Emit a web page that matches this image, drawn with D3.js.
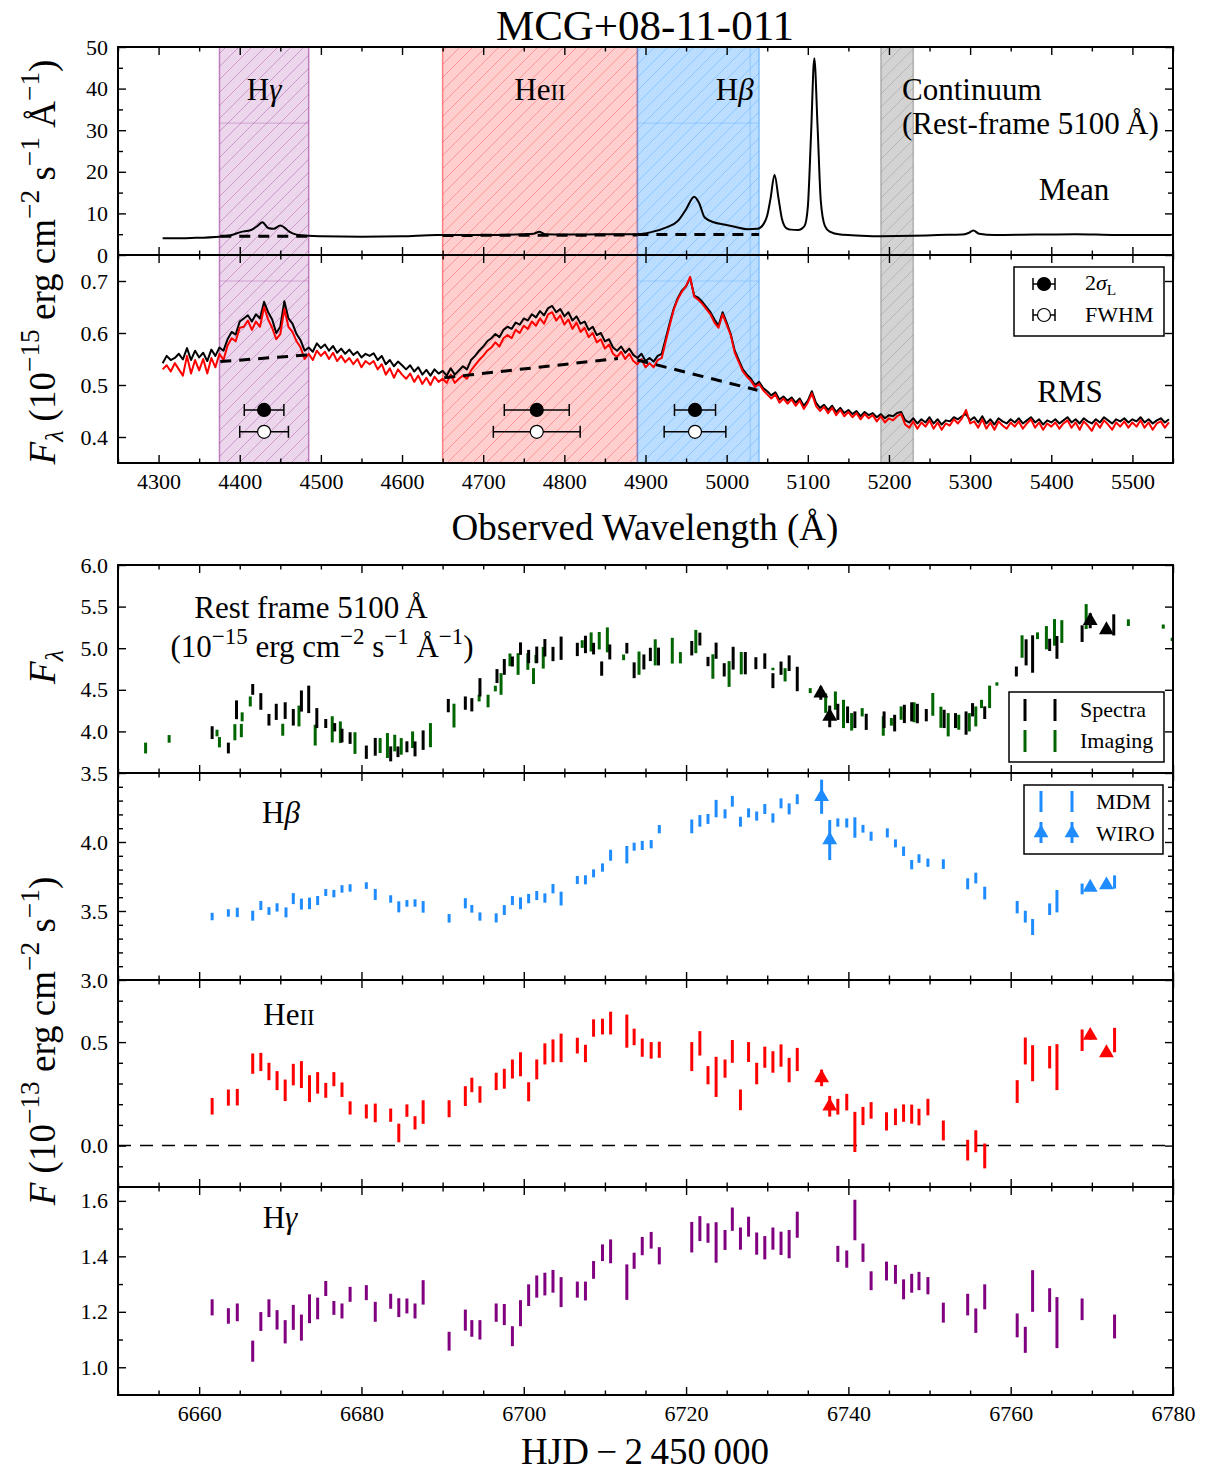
<!DOCTYPE html>
<html>
<head>
<meta charset="utf-8">
<script src="https://cdn.jsdelivr.net/npm/d3@7"></script>
<style>
    body { margin: 0; background: #fff; }
    svg text { font-family: "Liberation Serif", "Times New Roman", serif; fill: #000; }
</style>
</head>
<body>
<svg id="chart" width="1209" height="1471"></svg>
<script>
// ---- spectra ----
const meanWave = [4305, 4340, 4375, 4390, 4401, 4414, 4422, 4428, 4435, 4442, 4450, 4455, 4461, 4470, 4485,
    4500, 4550, 4600, 4643, 4700, 4750, 4762, 4769, 4776, 4800, 4850, 4889, 4907, 4925, 4940, 4950,
    4960, 4966, 4973, 4985, 4995, 5010, 5026, 5038, 5046, 5050, 5054, 5059, 5064, 5068, 5074, 5079,
    5088, 5096, 5100, 5104, 5108, 5112, 5116, 5121, 5127, 5140, 5160, 5190, 5230, 5260, 5290, 5298,
    5304, 5311, 5330, 5380, 5430, 5480, 5520, 5548];
const meanFlux = [4.0, 4.1, 4.4, 4.8, 5.5, 6.0, 7.0, 7.9, 6.5, 6.3, 7.1, 6.6, 5.6, 4.9, 4.6,
    4.5, 4.4, 4.5, 4.8, 4.8, 5.0, 5.1, 5.6, 5.0, 4.9, 5.0, 5.0, 5.5, 6.6, 8.2, 11.0,
    14.0, 12.5, 9.0, 7.8, 7.4, 6.8, 6.2, 6.3, 7.6, 9.5, 13.5, 19.3, 13.5, 8.8, 6.4, 6.1,
    6.0, 7.0, 11.5, 29.0, 47.3, 31.0, 13.0, 7.0, 5.6, 4.9, 4.7, 4.5, 4.6, 4.8, 4.9, 5.3,
    5.9, 5.1, 4.8, 4.9, 5.0, 4.8, 4.8, 4.8];

// rms spectra, 5 A sampling from 4305 A (one row = 100 A)
const rmsStart = 4305, rmsStep = 5;
const rmsBlack = [
    0.542, 0.556, 0.548, 0.552, 0.560, 0.549, 0.571, 0.548, 0.566, 0.553, 0.562, 0.546, 0.568, 0.556, 0.572, 0.566, 0.588, 0.602, 0.597, 0.622,
    0.628, 0.634, 0.622, 0.636, 0.628, 0.660, 0.640, 0.626, 0.600, 0.612, 0.661, 0.628, 0.618, 0.598, 0.586, 0.566, 0.572, 0.564, 0.580, 0.571,
    0.578, 0.566, 0.575, 0.562, 0.570, 0.560, 0.568, 0.558, 0.564, 0.553, 0.560, 0.556, 0.561, 0.548, 0.556, 0.540, 0.548, 0.536, 0.545, 0.538,
    0.530, 0.538, 0.526, 0.534, 0.520, 0.529, 0.518, 0.530, 0.522, 0.527, 0.518, 0.532, 0.520, 0.528, 0.536, 0.530, 0.548, 0.556, 0.566, 0.574,
    0.584, 0.590, 0.598, 0.592, 0.606, 0.612, 0.608, 0.620, 0.616, 0.628, 0.624, 0.636, 0.630, 0.642, 0.634, 0.648, 0.652, 0.640, 0.646, 0.632,
    0.640, 0.624, 0.632, 0.618, 0.622, 0.606, 0.612, 0.596, 0.600, 0.584, 0.588, 0.572, 0.566, 0.574, 0.562, 0.570, 0.558, 0.552, 0.560, 0.546,
    0.552, 0.545, 0.556, 0.560, 0.590, 0.620, 0.648, 0.668, 0.682, 0.690, 0.706, 0.672, 0.668, 0.660, 0.650, 0.640, 0.626, 0.614, 0.640, 0.620,
    0.598, 0.566, 0.548, 0.530, 0.520, 0.512, 0.500, 0.506, 0.494, 0.488, 0.480, 0.486, 0.472, 0.478, 0.470, 0.476, 0.466, 0.474, 0.460, 0.470,
    0.488, 0.466, 0.456, 0.462, 0.452, 0.460, 0.448, 0.456, 0.446, 0.452, 0.444, 0.450, 0.440, 0.448, 0.442, 0.446, 0.438, 0.444, 0.436, 0.442,
    0.440, 0.446, 0.448, 0.432, 0.428, 0.436, 0.426, 0.434, 0.428, 0.438, 0.426, 0.434, 0.424, 0.432, 0.430, 0.438, 0.434, 0.440, 0.444, 0.432,
    0.438, 0.428, 0.440, 0.426, 0.434, 0.424, 0.436, 0.430, 0.426, 0.434, 0.428, 0.436, 0.426, 0.432, 0.438, 0.428, 0.434, 0.424, 0.432, 0.428,
    0.434, 0.426, 0.432, 0.438, 0.428, 0.434, 0.426, 0.436, 0.430, 0.426, 0.434, 0.428, 0.438, 0.432, 0.426, 0.434, 0.430, 0.436, 0.428, 0.434,
    0.430, 0.438, 0.428, 0.434, 0.426, 0.432, 0.436, 0.428, 0.434];
const rmsRed = [
    0.530, 0.538, 0.526, 0.542, 0.530, 0.518, 0.556, 0.522, 0.548, 0.528, 0.550, 0.522, 0.552, 0.534, 0.560, 0.548, 0.576, 0.590, 0.584, 0.610,
    0.612, 0.624, 0.606, 0.622, 0.612, 0.650, 0.626, 0.610, 0.588, 0.598, 0.646, 0.612, 0.602, 0.584, 0.572, 0.550, 0.560, 0.548, 0.566, 0.556,
    0.564, 0.550, 0.562, 0.546, 0.556, 0.544, 0.552, 0.540, 0.550, 0.534, 0.546, 0.540, 0.546, 0.530, 0.540, 0.520, 0.532, 0.514, 0.530, 0.520,
    0.512, 0.522, 0.506, 0.518, 0.502, 0.514, 0.500, 0.516, 0.506, 0.512, 0.504, 0.520, 0.504, 0.512, 0.518, 0.512, 0.528, 0.538, 0.548, 0.556,
    0.566, 0.572, 0.582, 0.574, 0.590, 0.596, 0.590, 0.606, 0.600, 0.614, 0.608, 0.622, 0.614, 0.628, 0.618, 0.636, 0.640, 0.624, 0.634, 0.616,
    0.626, 0.608, 0.620, 0.602, 0.610, 0.592, 0.600, 0.582, 0.588, 0.570, 0.578, 0.560, 0.554, 0.564, 0.550, 0.560, 0.546, 0.540, 0.550, 0.534,
    0.542, 0.534, 0.548, 0.552, 0.584, 0.616, 0.646, 0.666, 0.680, 0.690, 0.708, 0.670, 0.664, 0.656, 0.646, 0.636, 0.620, 0.610, 0.636, 0.616,
    0.596, 0.562, 0.544, 0.526, 0.516, 0.508, 0.496, 0.502, 0.490, 0.482, 0.474, 0.482, 0.466, 0.474, 0.464, 0.472, 0.460, 0.470, 0.454, 0.466,
    0.484, 0.460, 0.450, 0.458, 0.446, 0.456, 0.442, 0.452, 0.440, 0.448, 0.438, 0.446, 0.434, 0.444, 0.436, 0.442, 0.430, 0.440, 0.428, 0.436,
    0.432, 0.440, 0.444, 0.424, 0.418, 0.430, 0.416, 0.428, 0.420, 0.432, 0.416, 0.428, 0.414, 0.426, 0.422, 0.434, 0.426, 0.436, 0.452, 0.426,
    0.430, 0.418, 0.434, 0.416, 0.428, 0.414, 0.430, 0.422, 0.416, 0.428, 0.420, 0.430, 0.416, 0.426, 0.434, 0.418, 0.428, 0.414, 0.426, 0.420,
    0.428, 0.416, 0.426, 0.432, 0.418, 0.428, 0.414, 0.430, 0.422, 0.412, 0.428, 0.418, 0.432, 0.424, 0.414, 0.428, 0.420, 0.430, 0.418, 0.428,
    0.420, 0.432, 0.418, 0.428, 0.414, 0.426, 0.430, 0.418, 0.428];

// integration windows (observed wavelength)
const windowLo = [4375, 4650, 4890, 5190];
const windowHi = [4485, 4890, 5040, 5230];

// local continuum under each line: [x0, y0, x1, y1]
const meanCont = [[4376, 4.5, 4485, 4.5], [4650, 4.7, 4890, 4.8], [4890, 4.9, 5040, 4.9]];
const rmsCont = [[4376, 0.545, 4485, 0.558], [4652, 0.514, 4866, 0.551], [4890, 0.548, 5038, 0.490]];

// line widths from rms spectrum
const lineCenter = [4430, 4766, 4961];
const sigmaHalf = [24.4, 40, 25.3];
const fwhmHalf = [30, 53.5, 38];
const sigmaLevel = 0.452, fwhmLevel = 0.410;

// ---- light curves: [HJD-2450000, value, error] ----
const contSpec = [
    [6661.6, 3.985, 0.077], [6663.6, 3.80, 0.065], [6664.6, 4.26, 0.113], [6666.6, 4.505, 0.065],
    [6667.6, 4.36, 0.10], [6668.6, 4.14, 0.07], [6669.5, 4.235, 0.097], [6670.6, 4.25, 0.10],
    [6671.6, 4.17, 0.10], [6672.6, 4.365, 0.127], [6673.5, 4.385, 0.165], [6674.5, 4.16, 0.12],
    [6675.6, 4.095, 0.054], [6676.7, 4.05, 0.05], [6677.6, 3.95, 0.082], [6678.6, 3.92, 0.07],
    [6680.6, 3.75, 0.08], [6681.7, 3.815, 0.107], [6683.6, 3.73, 0.09], [6684.5, 3.755, 0.064],
    [6685.6, 3.815, 0.066], [6686.6, 3.79, 0.09], [6687.6, 3.895, 0.117], [6690.7, 4.31, 0.08],
    [6692.8, 4.34, 0.08], [6693.6, 4.32, 0.08], [6694.6, 4.53, 0.11], [6696.7, 4.665, 0.084],
    [6697.6, 4.775, 0.095], [6698.6, 4.84, 0.06], [6699.6, 4.995, 0.075], [6700.6, 4.90, 0.08],
    [6701.6, 4.92, 0.10], [6702.6, 5.005, 0.105], [6703.6, 4.93, 0.086], [6704.6, 5.0, 0.14],
    [6706.6, 4.985, 0.08], [6707.6, 5.045, 0.105], [6708.6, 4.995, 0.07], [6709.6, 4.755, 0.086],
    [6710.6, 4.955, 0.09], [6712.7, 5.0, 0.064], [6713.6, 4.735, 0.095], [6714.8, 4.835, 0.09],
    [6715.6, 4.925, 0.08], [6716.6, 4.90, 0.107], [6720.7, 5.0, 0.087], [6721.7, 5.11, 0.077],
    [6722.7, 4.84, 0.056], [6723.7, 4.97, 0.097], [6724.7, 4.74, 0.08], [6725.8, 4.88, 0.137],
    [6727.3, 4.82, 0.134], [6728.6, 4.82, 0.072], [6729.7, 4.845, 0.093], [6730.7, 4.61, 0.09],
    [6731.7, 4.76, 0.08], [6732.7, 4.82, 0.094], [6733.7, 4.63, 0.147], [6738.7, 4.235, 0.097],
    [6739.9, 4.20, 0.10], [6740.8, 4.14, 0.10], [6742.2, 4.115, 0.097], [6744.4, 4.14, 0.10],
    [6745.7, 4.10, 0.10], [6746.9, 4.21, 0.11], [6747.8, 4.235, 0.115], [6748.5, 4.215, 0.117],
    [6749.6, 4.195, 0.074], [6751.8, 4.15, 0.11], [6753.2, 4.13, 0.09], [6754.5, 4.10, 0.14],
    [6755.3, 4.26, 0.08], [6756.8, 4.225, 0.076], [6760.7, 4.72, 0.06], [6761.9, 4.95, 0.157],
    [6762.7, 4.93, 0.225], [6764.8, 5.04, 0.074], [6765.7, 5.01, 0.137], [6768.8, 5.175, 0.10],
    [6772.7, 5.28, 0.127]];
const contWiro = [[6736.6, 4.46, 0.08], [6737.7, 4.18, 0.13], [6769.8, 5.33, 0.09], [6771.8, 5.22, 0.05]];
const contImg = [
    [6653.4, 3.80, 0.065], [6656.3, 3.91, 0.046], [6662.2, 3.98, 0.04], [6662.5, 3.87, 0.062],
    [6664.4, 3.99, 0.097], [6665.2, 4.01, 0.08], [6665.3, 4.175, 0.054], [6666.3, 4.36, 0.06],
    [6670.3, 4.02, 0.072], [6672.3, 4.185, 0.125], [6674.3, 3.955, 0.125], [6676.4, 4.025, 0.157],
    [6677.4, 3.99, 0.13], [6679.2, 3.86, 0.13], [6682.3, 3.83, 0.09], [6683.2, 3.83, 0.15],
    [6684.1, 3.86, 0.10], [6684.9, 3.82, 0.10], [6686.3, 3.90, 0.10], [6688.5, 3.955, 0.145],
    [6691.4, 4.19, 0.143], [6694.5, 4.40, 0.04], [6695.6, 4.365, 0.076], [6696.5, 4.515, 0.034],
    [6697.2, 4.57, 0.13], [6698.3, 4.86, 0.076], [6699.3, 4.81, 0.13], [6700.5, 4.84, 0.10],
    [6701.2, 4.665, 0.095], [6701.5, 4.87, 0.05], [6702.4, 4.885, 0.13], [6707.2, 5.05, 0.046],
    [6708.3, 5.075, 0.115], [6709.3, 5.09, 0.105], [6710.3, 5.10, 0.15], [6712.3, 4.89, 0.034],
    [6714.2, 4.82, 0.14], [6716.2, 4.95, 0.157], [6718.3, 4.97, 0.155], [6719.3, 4.885, 0.068],
    [6721.2, 5.08, 0.14], [6723.3, 4.78, 0.147], [6725.3, 4.69, 0.155], [6726.8, 4.82, 0.134],
    [6730.7, 4.75, 0.015], [6732.2, 4.68, 0.08], [6735.3, 4.49, 0.03], [6737.2, 4.34, 0.117],
    [6738.4, 4.37, 0.11], [6739.4, 4.21, 0.17], [6740.4, 4.115, 0.105], [6741.7, 4.23, 0.05],
    [6744.3, 4.065, 0.117], [6745.3, 4.115, 0.046], [6746.5, 4.22, 0.08], [6748.1, 4.23, 0.12],
    [6750.4, 4.325, 0.137], [6751.4, 4.17, 0.127], [6752.3, 4.08, 0.14], [6753.6, 4.11, 0.09],
    [6754.9, 4.11, 0.11], [6755.7, 4.18, 0.12], [6756.4, 4.33, 0.05], [6757.4, 4.415, 0.135],
    [6758.3, 4.57, 0.02], [6761.4, 5.02, 0.135], [6763.3, 5.15, 0.04], [6764.4, 5.126, 0.14],
    [6765.4, 5.19, 0.16], [6766.3, 5.20, 0.137], [6769.3, 5.38, 0.15], [6774.5, 5.307, 0.04],
    [6778.8, 5.26, 0.025], [6779.9, 5.106, 0.02]];

const hbMdm = [
    [6661.6, 3.46, 0.027], [6663.6, 3.486, 0.027], [6664.7, 3.49, 0.034], [6666.6, 3.466, 0.036],
    [6667.6, 3.54, 0.033], [6668.6, 3.50, 0.028], [6669.6, 3.526, 0.03], [6670.7, 3.49, 0.036],
    [6671.6, 3.59, 0.04], [6672.6, 3.55, 0.04], [6673.6, 3.555, 0.042], [6674.6, 3.576, 0.033],
    [6675.6, 3.634, 0.025], [6676.6, 3.626, 0.027], [6677.6, 3.66, 0.027], [6678.6, 3.667, 0.027],
    [6680.6, 3.684, 0.024], [6681.7, 3.62, 0.04], [6683.6, 3.587, 0.027], [6684.6, 3.53, 0.04],
    [6685.6, 3.555, 0.024], [6686.6, 3.558, 0.027], [6687.6, 3.53, 0.042], [6690.8, 3.447, 0.031],
    [6692.8, 3.556, 0.037], [6693.6, 3.516, 0.028], [6694.6, 3.46, 0.03], [6696.6, 3.45, 0.033],
    [6697.6, 3.507, 0.036], [6698.6, 3.576, 0.033], [6699.6, 3.556, 0.043], [6700.6, 3.59, 0.034],
    [6701.6, 3.612, 0.033], [6702.6, 3.594, 0.034], [6703.6, 3.662, 0.034], [6704.6, 3.59, 0.05],
    [6706.6, 3.725, 0.029], [6707.6, 3.726, 0.033], [6708.6, 3.773, 0.029], [6709.7, 3.815, 0.03],
    [6710.7, 3.904, 0.04], [6712.7, 3.908, 0.063], [6713.6, 3.966, 0.029], [6714.6, 3.975, 0.033],
    [6715.7, 3.984, 0.03], [6716.7, 4.093, 0.03], [6720.7, 4.113, 0.05], [6721.7, 4.153, 0.042],
    [6722.7, 4.167, 0.036], [6723.7, 4.242, 0.063], [6724.8, 4.204, 0.033], [6725.7, 4.295, 0.039],
    [6726.7, 4.147, 0.036], [6727.7, 4.211, 0.033], [6728.7, 4.188, 0.033], [6729.7, 4.239, 0.036],
    [6730.7, 4.174, 0.034], [6731.7, 4.28, 0.036], [6732.7, 4.24, 0.04], [6733.7, 4.31, 0.036],
    [6738.7, 4.141, 0.03], [6739.8, 4.138, 0.033], [6740.8, 4.105, 0.074], [6741.8, 4.096, 0.028],
    [6742.8, 4.042, 0.033], [6744.8, 4.066, 0.033], [6745.8, 3.99, 0.029], [6746.8, 3.933, 0.034],
    [6747.8, 3.836, 0.034], [6748.7, 3.88, 0.031], [6749.8, 3.85, 0.03], [6751.7, 3.84, 0.035],
    [6754.7, 3.697, 0.04], [6755.7, 3.739, 0.039], [6756.8, 3.63, 0.046], [6760.8, 3.528, 0.045],
    [6761.8, 3.459, 0.043], [6762.7, 3.384, 0.058], [6764.8, 3.513, 0.042], [6765.7, 3.571, 0.081],
    [6768.8, 3.66, 0.039], [6772.8, 3.71, 0.048]];
const hbWiro = [[6736.7, 4.328, 0.124], [6737.7, 4.014, 0.145], [6769.8, 3.671, 0.015], [6771.8, 3.688, 0.015]];

const heMdm = [
    [6661.6, 0.19, 0.04], [6663.6, 0.232, 0.039], [6664.7, 0.234, 0.04], [6666.6, 0.396, 0.049],
    [6667.6, 0.404, 0.044], [6668.6, 0.358, 0.042], [6669.6, 0.314, 0.046], [6670.6, 0.267, 0.052],
    [6671.6, 0.343, 0.052], [6672.6, 0.343, 0.065], [6673.6, 0.275, 0.065], [6674.6, 0.303, 0.052],
    [6675.6, 0.267, 0.036], [6676.6, 0.321, 0.034], [6677.6, 0.27, 0.035], [6678.6, 0.182, 0.032],
    [6680.6, 0.165, 0.034], [6681.7, 0.158, 0.045], [6683.6, 0.147, 0.032], [6684.6, 0.061, 0.045],
    [6685.6, 0.169, 0.03], [6686.6, 0.11, 0.032], [6687.6, 0.162, 0.057], [6690.8, 0.178, 0.041],
    [6692.8, 0.239, 0.048], [6693.6, 0.293, 0.035], [6694.6, 0.247, 0.04], [6696.6, 0.31, 0.042],
    [6697.6, 0.323, 0.048], [6698.6, 0.37, 0.046], [6699.6, 0.393, 0.058], [6700.6, 0.26, 0.046],
    [6701.6, 0.368, 0.048], [6702.6, 0.443, 0.051], [6703.6, 0.458, 0.055], [6704.6, 0.472, 0.069],
    [6706.6, 0.483, 0.038], [6707.6, 0.445, 0.042], [6708.6, 0.568, 0.042], [6709.7, 0.575, 0.038],
    [6710.7, 0.592, 0.055], [6712.7, 0.553, 0.08], [6713.6, 0.525, 0.04], [6714.6, 0.473, 0.044],
    [6715.7, 0.46, 0.04], [6716.7, 0.463, 0.039], [6720.7, 0.43, 0.07], [6721.7, 0.494, 0.059],
    [6722.7, 0.34, 0.044], [6723.7, 0.332, 0.097], [6724.8, 0.372, 0.044], [6725.7, 0.455, 0.055],
    [6726.7, 0.221, 0.05], [6727.7, 0.452, 0.048], [6728.7, 0.348, 0.052], [6729.7, 0.427, 0.051],
    [6730.7, 0.404, 0.052], [6731.7, 0.435, 0.054], [6732.7, 0.365, 0.059], [6733.7, 0.416, 0.056],
    [6738.7, 0.188, 0.038], [6739.8, 0.21, 0.04], [6740.8, 0.066, 0.097], [6741.8, 0.143, 0.044],
    [6742.8, 0.17, 0.04], [6744.7, 0.117, 0.044], [6745.8, 0.139, 0.04], [6746.8, 0.157, 0.042],
    [6747.8, 0.152, 0.046], [6748.7, 0.138, 0.04], [6749.8, 0.186, 0.04], [6751.7, 0.073, 0.048],
    [6754.7, -0.022, 0.05], [6755.7, 0.021, 0.053], [6756.8, -0.05, 0.06], [6760.8, 0.261, 0.055],
    [6761.8, 0.457, 0.065], [6762.7, 0.398, 0.087], [6764.8, 0.427, 0.054], [6765.7, 0.379, 0.111],
    [6768.8, 0.509, 0.052], [6772.8, 0.51, 0.059]];
const heWiro = [[6736.7, 0.327, 0.04], [6737.7, 0.19, 0.05], [6769.8, 0.532, 0.02], [6771.8, 0.448, 0.02]];

const hgMdm = [
    [6661.6, 1.216, 0.029], [6663.6, 1.185, 0.028], [6664.7, 1.198, 0.032], [6666.6, 1.058, 0.038],
    [6667.6, 1.165, 0.034], [6668.6, 1.213, 0.032], [6669.6, 1.171, 0.035], [6670.6, 1.128, 0.042],
    [6671.6, 1.18, 0.045], [6672.6, 1.143, 0.047], [6673.6, 1.211, 0.052], [6674.6, 1.212, 0.039],
    [6675.6, 1.284, 0.027], [6676.6, 1.214, 0.025], [6677.6, 1.203, 0.027], [6678.6, 1.263, 0.027],
    [6680.6, 1.269, 0.027], [6681.7, 1.20, 0.036], [6683.6, 1.238, 0.027], [6684.6, 1.215, 0.034],
    [6685.6, 1.221, 0.027], [6686.6, 1.203, 0.027], [6687.6, 1.27, 0.044], [6690.8, 1.094, 0.034],
    [6692.8, 1.17, 0.038], [6693.6, 1.14, 0.03], [6694.6, 1.135, 0.035], [6696.6, 1.197, 0.033],
    [6697.6, 1.19, 0.038], [6698.6, 1.112, 0.036], [6699.6, 1.195, 0.047], [6700.6, 1.26, 0.039],
    [6701.6, 1.291, 0.04], [6702.6, 1.30, 0.041], [6703.6, 1.31, 0.041], [6704.6, 1.271, 0.054],
    [6706.6, 1.28, 0.029], [6707.6, 1.275, 0.034], [6708.6, 1.351, 0.032], [6709.7, 1.413, 0.03],
    [6710.7, 1.418, 0.043], [6712.7, 1.307, 0.064], [6713.6, 1.384, 0.029], [6714.6, 1.437, 0.033],
    [6715.7, 1.458, 0.03], [6716.7, 1.402, 0.031], [6720.7, 1.469, 0.055], [6721.7, 1.50, 0.045],
    [6722.7, 1.484, 0.035], [6723.7, 1.45, 0.073], [6724.8, 1.459, 0.036], [6725.7, 1.534, 0.042],
    [6726.7, 1.464, 0.04], [6727.7, 1.507, 0.036], [6728.7, 1.446, 0.04], [6729.7, 1.431, 0.042],
    [6730.7, 1.464, 0.04], [6731.7, 1.447, 0.042], [6732.7, 1.444, 0.051], [6733.7, 1.514, 0.047],
    [6738.7, 1.409, 0.029], [6739.8, 1.39, 0.031], [6740.8, 1.531, 0.073], [6741.8, 1.413, 0.033],
    [6742.8, 1.312, 0.034], [6744.7, 1.347, 0.034], [6745.8, 1.335, 0.034], [6746.8, 1.281, 0.036],
    [6747.8, 1.303, 0.034], [6748.7, 1.311, 0.033], [6749.8, 1.294, 0.031], [6751.7, 1.197, 0.036],
    [6754.7, 1.226, 0.039], [6755.7, 1.168, 0.044], [6756.8, 1.254, 0.045], [6760.8, 1.151, 0.043],
    [6761.8, 1.099, 0.047], [6762.7, 1.275, 0.075], [6764.8, 1.242, 0.043], [6765.7, 1.161, 0.092],
    [6768.8, 1.209, 0.039], [6772.8, 1.147, 0.043]];

// ticks
const wlMajor = d3.range(4300, 5501, 100);
const wlMinor = d3.range(4250, 5551, 50).filter(v => v % 100 !== 0);
const hjdMajor = d3.range(6660, 6781, 20);
const hjdMinor = d3.range(6650, 6781, 5).filter(v => (v - 6660) % 20 !== 0);

// ---- drawing ----
const SERIF = '"Liberation Serif", "Times New Roman", serif';
const svg = d3.select('#chart');
const defs = svg.append('defs');
const L = 118, R = 1173;

const xW = d3.scaleLinear().domain([4250, 5550]).range([L, R]);
const yMean = d3.scaleLinear().domain([0, 50]).range([255, 47]);
const yRms = d3.scaleLinear().domain([0.35, 0.75]).range([463, 255]);
const xT = d3.scaleLinear().domain([6650, 6780]).range([L, R]);
const yCont = d3.scaleLinear().domain([3.5, 6.0]).range([773, 565]);
const yHb = d3.scaleLinear().domain([3.0, 4.5]).range([980, 773]);
const yHe = d3.scaleLinear().domain([-0.2, 0.8]).range([1187, 980]);
const yHg = d3.scaleLinear().domain([0.9, 1.65]).range([1395, 1187]);

function clipFor(id, y) {
    defs.append('clipPath').attr('id', id).append('rect')
        .attr('x', L).attr('y', y.range()[1]).attr('width', R - L).attr('height', y.range()[0] - y.range()[1]);
    return `url(#${id})`;
}

// text with tspans: sup / sub / italic / small caps
function rich(g, x, y, parts, size, anchor, rotate) {
    const t = g.append('text').attr('x', x).attr('y', y).attr('font-family', SERIF)
        .attr('font-size', size).attr('text-anchor', anchor || 'start');
    if (rotate) t.attr('transform', `rotate(-90,${x},${y})`);
    let shift = 0;
    parts.forEach(p => {
        if (typeof p === 'string') p = { t: p };
        let target = 0, fs = size;
        if (p.sup) { target = -0.42 * size; fs = 0.74 * size; }
        if (p.sub) { target = 0.22 * size; fs = 0.7 * size; }
        if (p.sc) fs = 0.74 * size;
        const s = t.append('tspan').text(p.t).attr('font-size', fs).attr('dy', target - shift);
        if (p.it) s.attr('font-style', 'italic');
        shift = target;
    });
    return t;
}

function axes(g, x, y, o) {
    const y0 = y.range()[0], y1 = y.range()[1];
    const fmtX = o.xLabels ? d3.format('d') : '';
    const mk = (axis, tr, vals, size, fmt) => {
        const a = g.append('g').attr('transform', tr)
            .call(axis.tickValues(vals).tickSize(-size).tickPadding(10).tickFormat(fmt || ''));
        a.select('.domain').remove();
        a.attr('font-family', SERIF).attr('font-size', 22);
        a.selectAll('line').attr('stroke', '#000').attr('stroke-width', 1.4);
        a.selectAll('text').attr('font-family', SERIF).attr('font-size', 22).attr('fill', '#000');
    };
    mk(d3.axisBottom(x), `translate(0,${y0})`, o.xMajor, 8, fmtX);
    mk(d3.axisBottom(x), `translate(0,${y0})`, o.xMinor, 4.5);
    mk(d3.axisTop(x), `translate(0,${y1})`, o.xMajor, 8);
    mk(d3.axisTop(x), `translate(0,${y1})`, o.xMinor, 4.5);
    mk(d3.axisLeft(y), `translate(${L},0)`, o.yMajor, 8, o.yFmt);
    mk(d3.axisRight(y), `translate(${R},0)`, o.yMajor, 8);
    if (o.yMinor) {
        mk(d3.axisLeft(y), `translate(${L},0)`, o.yMinor, 5);
        mk(d3.axisRight(y), `translate(${R},0)`, o.yMinor, 5);
    }
    g.append('rect').attr('x', L).attr('y', y1).attr('width', R - L).attr('height', y0 - y1)
        .attr('fill', 'none').attr('stroke', '#000').attr('stroke-width', 2);
}

// hatch patterns
const winColor = ['128,0,128', '255,0,0', '30,144,255', '110,110,110'];
const winFill = [0.16, 0.19, 0.3, 0.3];
winColor.forEach((c, i) => {
    const p = defs.append('pattern').attr('id', 'hatch' + i)
        .attr('patternUnits', 'userSpaceOnUse').attr('width', 13).attr('height', 13);
    p.append('path').attr('d', 'M0,13 L13,0 M-3,3 L3,-3 M10,16 L16,10')
        .attr('stroke', `rgba(${c},0.32)`).attr('stroke-width', 0.9);
});

function windows(g, y) {
    const top = y.range()[1], bot = y.range()[0];
    windowLo.forEach((lo, i) => {
        const x0 = xW(lo), w = xW(windowHi[i]) - x0;
        g.append('rect').attr('x', x0).attr('y', top).attr('width', w).attr('height', bot - top)
            .attr('fill', `rgba(${winColor[i]},${winFill[i]})`);
        g.append('rect').attr('x', x0).attr('y', top).attr('width', w).attr('height', bot - top)
            .attr('fill', `url(#hatch${i})`);
        [lo, windowHi[i]].forEach(v => g.append('line')
            .attr('x1', xW(v)).attr('x2', xW(v)).attr('y1', top).attr('y2', bot)
            .attr('stroke', `rgba(${winColor[i]},0.45)`).attr('stroke-width', 1.5));
    });
}

// title
rich(svg, 645, 40, ['MCG+08-11-011'], 43, 'middle');

// ---- mean spectrum ----
const gMean = svg.append('g');
windows(gMean, yMean);
[0, 2].forEach(i => gMean.append('line')
    .attr('x1', xW(windowLo[i])).attr('x2', xW(windowHi[i])).attr('y1', yMean(31.7)).attr('y2', yMean(31.7))
    .attr('stroke', `rgba(${winColor[i]},0.3)`).attr('stroke-width', 0.8));
gMean.append('line').attr('x1', xW(5029)).attr('x2', xW(5029)).attr('y1', 47).attr('y2', 463)
    .attr('stroke', 'rgba(30,144,255,0.35)').attr('stroke-width', 0.8);

const meanPts = meanWave.map((w, i) => [w, meanFlux[i]]);
const gMeanData = gMean.append('g').attr('clip-path', clipFor('cMean', yMean));
gMeanData.append('path').datum(meanPts)
    .attr('d', d3.line().x(d => xW(d[0])).y(d => yMean(d[1])).curve(d3.curveMonotoneX))
    .attr('fill', 'none').attr('stroke', '#000').attr('stroke-width', 2);
gMeanData.selectAll('.mc').data(meanCont).join('line')
    .attr('x1', d => xW(d[0])).attr('y1', d => yMean(d[1])).attr('x2', d => xW(d[2])).attr('y2', d => yMean(d[3]))
    .attr('stroke', '#000').attr('stroke-width', 3).attr('stroke-dasharray', '11,8');
axes(gMean, xW, yMean, { xMajor: wlMajor, xMinor: wlMinor, yMajor: d3.range(0, 51, 10), yMinor: d3.range(5, 50, 10), yFmt: d3.format('d') });

rich(gMean, xW(4430), 100, ['H', { t: 'γ', it: true }], 31, 'middle');
rich(gMean, xW(4770), 100, ['He', { t: 'II', sc: true }], 31, 'middle');
rich(gMean, xW(5010), 100, ['H', { t: 'β', it: true }], 31, 'middle');
rich(gMean, 902, 100, ['Continuum'], 31, 'start');
rich(gMean, 902, 134, ['(Rest-frame 5100\u2009Å)'], 31, 'start');
rich(gMean, 1074, 200, ['Mean'], 31, 'middle');

// ---- rms spectrum ----
const gRms = svg.append('g');
windows(gRms, yRms);
[0, 2].forEach(i => gRms.append('line')
    .attr('x1', xW(windowLo[i])).attr('x2', xW(windowHi[i])).attr('y1', yRms(0.7)).attr('y2', yRms(0.7))
    .attr('stroke', `rgba(${winColor[i]},0.3)`).attr('stroke-width', 0.8));
const gRmsData = gRms.append('g').attr('clip-path', clipFor('cRms', yRms));
const rmsLine = d3.line().x((d, i) => xW(rmsStart + i * rmsStep)).y(d => yRms(d));
gRmsData.append('path').datum(rmsBlack).attr('d', rmsLine)
    .attr('fill', 'none').attr('stroke', '#000').attr('stroke-width', 2).attr('stroke-linejoin', 'round');
gRmsData.append('path').datum(rmsRed).attr('d', rmsLine)
    .attr('fill', 'none').attr('stroke', '#ff0000').attr('stroke-width', 2).attr('stroke-linejoin', 'round');
gRmsData.selectAll('.rc').data(rmsCont).join('line')
    .attr('x1', d => xW(d[0])).attr('y1', d => yRms(d[1])).attr('x2', d => xW(d[2])).attr('y2', d => yRms(d[3]))
    .attr('stroke', '#000').attr('stroke-width', 3).attr('stroke-dasharray', '11,8');

function widthBar(g, cx, cy, half, filled) {
    g.append('line').attr('x1', cx - half).attr('x2', cx + half).attr('y1', cy).attr('y2', cy)
        .attr('stroke', '#000').attr('stroke-width', 1.5);
    [cx - half, cx + half].forEach(x => g.append('line').attr('x1', x).attr('x2', x)
        .attr('y1', cy - 6).attr('y2', cy + 6).attr('stroke', '#000').attr('stroke-width', 1.5));
    g.append('circle').attr('cx', cx).attr('cy', cy).attr('r', 6.5)
        .attr('fill', filled ? '#000' : '#fff').attr('stroke', '#000').attr('stroke-width', 1.2);
}
lineCenter.forEach((c, i) => {
    widthBar(gRms, xW(c), yRms(sigmaLevel), xW(c + sigmaHalf[i]) - xW(c), true);
    widthBar(gRms, xW(c), yRms(fwhmLevel), xW(c + fwhmHalf[i]) - xW(c), false);
});
axes(gRms, xW, yRms, { xMajor: wlMajor, xMinor: wlMinor, xLabels: true, yMajor: [0.4, 0.5, 0.6, 0.7], yFmt: d3.format('.1f') });
rich(gRms, 1070, 402, ['RMS'], 31, 'middle');

// rms legend
gRms.append('rect').attr('x', 1014).attr('y', 267).attr('width', 150).attr('height', 69)
    .attr('fill', '#fff').attr('stroke', '#000').attr('stroke-width', 1.5);
widthBar(gRms, 1044, 284, 11, true);
widthBar(gRms, 1044, 315, 11, false);
rich(gRms, 1085, 290, ['2', { t: 'σ', it: true }, { t: 'L', sub: true }], 22, 'start');
rich(gRms, 1085, 322, ['FWHM'], 22, 'start');

rich(svg, 645, 540, ['Observed Wavelength (Å)'], 37, 'middle');
rich(svg, 55, 262, [{ t: 'F', it: true }, { t: 'λ', it: true, sub: true }, ' (10', { t: '−15', sup: true },
    ' erg cm', { t: '−2', sup: true }, ' s', { t: '−1', sup: true }, ' Å', { t: '−1', sup: true }, ')'], 37, 'middle', true);

// ---- light curves ----
function errBars(g, y, data, color, w) {
    g.selectAll(null).data(data).join('line')
        .attr('x1', d => xT(d[0])).attr('x2', d => xT(d[0]))
        .attr('y1', d => y(d[1] - d[2])).attr('y2', d => y(d[1] + d[2]))
        .attr('stroke', color).attr('stroke-width', w || 3);
}
function triangles(g, y, data, color) {
    errBars(g, y, data, color);
    g.selectAll(null).data(data).join('path')
        .attr('d', d3.symbol(d3.symbolTriangle, 95))
        .attr('transform', d => `translate(${xT(d[0])},${y(d[1])})`)
        .attr('fill', color);
}

const lcOpts = (yMajor, yMinor, fmt, labels) =>
    ({ xMajor: hjdMajor, xMinor: hjdMinor, xLabels: labels, yMajor: yMajor, yMinor: yMinor, yFmt: d3.format(fmt) });

// continuum
const gCont = svg.append('g');
const gContData = gCont.append('g').attr('clip-path', clipFor('cCont', yCont));
errBars(gContData, yCont, contImg, '#006400');
errBars(gContData, yCont, contSpec, '#000');
triangles(gContData, yCont, contWiro, '#000');
axes(gCont, xT, yCont, lcOpts(d3.range(3.5, 6.01, 0.5), null, '.1f', false));
rich(gCont, 311, 618, ['Rest frame 5100\u2009Å'], 31, 'middle');
rich(gCont, 322, 657, ['(10', { t: '−15', sup: true }, ' erg cm', { t: '−2', sup: true }, ' s', { t: '−1', sup: true },
    ' Å', { t: '−1', sup: true }, ')'], 31, 'middle');
gCont.append('rect').attr('x', 1009).attr('y', 692).attr('width', 155).attr('height', 70)
    .attr('fill', '#fff').attr('stroke', '#000').attr('stroke-width', 1.5);
[[710, '#000', 'Spectra'], [741, '#006400', 'Imaging']].forEach(([yy, c, t]) => {
    [1025, 1055].forEach(x => gCont.append('line').attr('x1', x).attr('x2', x)
        .attr('y1', yy - 11).attr('y2', yy + 11).attr('stroke', c).attr('stroke-width', 3));
    rich(gCont, 1080, yy + 7, [t], 22, 'start');
});
rich(svg, 55, 667, [{ t: 'F', it: true }, { t: 'λ', it: true, sub: true }], 37, 'middle', true);

// H beta
const gHb = svg.append('g');
const gHbData = gHb.append('g').attr('clip-path', clipFor('cHb', yHb));
errBars(gHbData, yHb, hbMdm, '#1e8cff');
triangles(gHbData, yHb, hbWiro, '#1e8cff');
axes(gHb, xT, yHb, lcOpts([3.0, 3.5, 4.0], [3.1, 3.2, 3.3, 3.4, 3.6, 3.7, 3.8, 3.9, 4.1, 4.2, 4.3, 4.4], '.1f', false));
rich(gHb, 281, 823, ['H', { t: 'β', it: true }], 31, 'middle');
gHb.append('rect').attr('x', 1024).attr('y', 785).attr('width', 139).attr('height', 69)
    .attr('fill', '#fff').attr('stroke', '#000').attr('stroke-width', 1.5);
[1041, 1072].forEach(x => {
    gHb.append('line').attr('x1', x).attr('x2', x).attr('y1', 791).attr('y2', 812)
        .attr('stroke', '#1e8cff').attr('stroke-width', 3);
    gHb.append('line').attr('x1', x).attr('x2', x).attr('y1', 822).attr('y2', 843)
        .attr('stroke', '#1e8cff').attr('stroke-width', 3);
    gHb.append('path').attr('d', d3.symbol(d3.symbolTriangle, 95))
        .attr('transform', `translate(${x},833)`).attr('fill', '#1e8cff');
});
rich(gHb, 1096, 809, ['MDM'], 22, 'start');
rich(gHb, 1096, 841, ['WIRO'], 22, 'start');

// He II
const gHe = svg.append('g');
gHe.append('line').attr('x1', L).attr('x2', R).attr('y1', yHe(0)).attr('y2', yHe(0))
    .attr('stroke', '#000').attr('stroke-width', 1.5).attr('stroke-dasharray', '13,9');
const gHeData = gHe.append('g').attr('clip-path', clipFor('cHe', yHe));
errBars(gHeData, yHe, heMdm, '#ff0000');
triangles(gHeData, yHe, heWiro, '#ff0000');
axes(gHe, xT, yHe, lcOpts([0.0, 0.5], [-0.1, 0.1, 0.2, 0.3, 0.4, 0.6, 0.7], '.1f', false));
rich(gHe, 289, 1025, ['He', { t: 'II', sc: true }], 31, 'middle');

// H gamma
const gHg = svg.append('g');
const gHgData = gHg.append('g').attr('clip-path', clipFor('cHg', yHg));
errBars(gHgData, yHg, hgMdm, '#800080');
axes(gHg, xT, yHg, lcOpts([1.0, 1.2, 1.4, 1.6], [1.1, 1.3, 1.5], '.1f', true));
rich(gHg, 280, 1228, ['H', { t: 'γ', it: true }], 31, 'middle');

rich(svg, 55, 1041, [{ t: 'F', it: true }, ' (10', { t: '−13', sup: true }, ' erg cm', { t: '−2', sup: true },
    ' s', { t: '−1', sup: true }, ')'], 37, 'middle', true);
rich(svg, 645, 1464, ['HJD\u2009−\u20092\u2009450\u2009000'], 37, 'middle');
</script>
</body>
</html>
